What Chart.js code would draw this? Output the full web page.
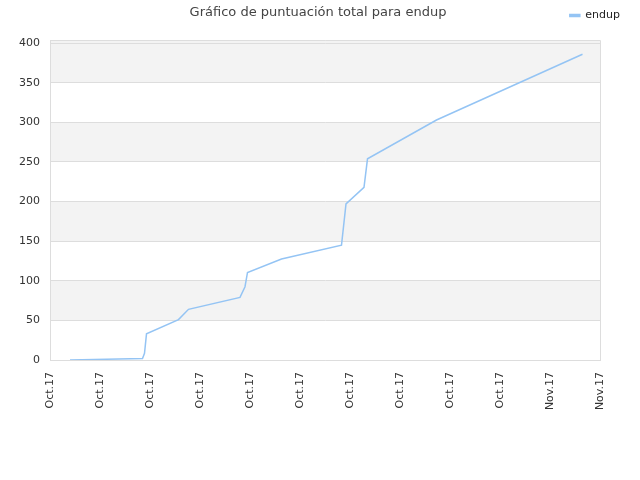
<!DOCTYPE html>
<html>
<head>
<meta charset="utf-8">
<script src="https://cdn.jsdelivr.net/npm/chart.js@4/dist/chart.umd.min.js"></script>
<style>
    html, body { margin: 0; padding: 0; background: #fff; }
    #wrap { width: 640px; height: 480px; }
</style>
</head>
<body>
<div id="wrap"><canvas id="scoreChart" width="640" height="480"></canvas></div>
<script>
// Chart data
const chartTitle = 'Gráfico de puntuación total para endup';
const seriesName = 'endup';
const xTickLabels = ['Oct.17', 'Oct.17', 'Oct.17', 'Oct.17', 'Oct.17', 'Oct.17',
                     'Oct.17', 'Oct.17', 'Oct.17', 'Oct.17', 'Nov.17', 'Nov.17'];
const yTickValues = [0, 50, 100, 150, 200, 250, 300, 350, 400];
const pointX = [0.4, 1.13, 1.85, 1.89, 1.93, 2.57, 2.77, 3.8, 3.9, 3.95, 4.63, 5.83, 5.92, 6.28, 6.35, 7.73, 10.65];
const pointY = [0, 1, 2, 8.5, 33, 51, 64, 79, 92.5, 110.5, 127.5, 145, 197, 218, 254, 303, 386];
const bandRanges = [[50, 100], [150, 200], [250, 300], [350, 404]];

const LINE_COLOR = '#94c4f4';
const GRID_COLOR = '#dddddd';

// alternating grey bands + frame on the plot area
const bandsPlugin = {
    id: 'bands',
    beforeDraw(chart) {
        const { ctx, chartArea: a, scales: { y } } = chart;
        ctx.save();
        ctx.fillStyle = '#f3f3f3';
        bandRanges.forEach(([lo, hi]) => {
            const top = y.getPixelForValue(hi);
            const bot = y.getPixelForValue(lo);
            ctx.fillRect(a.left, top, a.right - a.left, bot - top);
        });
        ctx.restore();
    },
    afterDraw(chart) {
        const { ctx, chartArea: a } = chart;
        ctx.save();
        ctx.strokeStyle = GRID_COLOR;
        ctx.lineWidth = 1;
        ctx.beginPath();
        ctx.moveTo(a.left, a.top + 0.5);
        ctx.lineTo(a.right + 0.5, a.top + 0.5);
        ctx.lineTo(a.right + 0.5, a.bottom);
        ctx.stroke();
        // title sits on the same row as the legend
        ctx.fillStyle = '#444';
        ctx.font = '13px "DejaVu Sans"';
        ctx.textAlign = 'center';
        ctx.textBaseline = 'middle';
        ctx.fillText(chartTitle, 318, 13);
        ctx.restore();
    }
};

const ctx = document.getElementById('scoreChart').getContext('2d');
const scoreChart = new Chart(ctx, {
    type: 'line',
    data: {
        datasets: [{
            label: seriesName,
            data: pointX.map((x, i) => ({ x: x, y: pointY[i] })),
            borderColor: LINE_COLOR,
            backgroundColor: LINE_COLOR,
            borderWidth: 1.5,
            pointRadius: 0,
            tension: 0,
            fill: false
        }]
    },
    options: {
        responsive: false,
        animation: false,
        layout: { padding: { top: 0, right: 10, left: 0, bottom: 0 } },
        plugins: {
            title: { display: false },
            // spacer between legend row and plot area
            subtitle: {
                display: true,
                text: '',
                weight: 500,
                font: { size: 1, lineHeight: 1 },
                padding: { top: 0, bottom: 8 }
            },
            tooltip: { enabled: false },
            legend: {
                position: 'top',
                align: 'end',
                labels: {
                    color: '#222',
                    boxWidth: 10,
                    boxHeight: 2,
                    padding: 10,
                    font: { family: 'DejaVu Sans', size: 11 }
                }
            }
        },
        scales: {
            x: {
                type: 'linear',
                min: 0,
                max: 11,
                afterFit: s => { s.height = 120; },
                grid: { display: false, drawTicks: false },
                border: { display: true, color: GRID_COLOR },
                ticks: {
                    stepSize: 1,
                    autoSkip: false,
                    maxRotation: 90,
                    minRotation: 90,
                    padding: 12,
                    color: '#333',
                    font: { family: 'DejaVu Sans', size: 11 },
                    callback: v => xTickLabels[v]
                }
            },
            y: {
                min: 0,
                max: 404,
                afterFit: s => { s.width = 50; },
                afterBuildTicks: s => { s.ticks = yTickValues.map(v => ({ value: v })); },
                grid: { color: GRID_COLOR, drawTicks: false },
                border: { display: true, color: GRID_COLOR },
                ticks: {
                    padding: 10,
                    color: '#333',
                    font: { family: 'DejaVu Sans', size: 11 }
                }
            },
            // empty right-hand axis keeps the plot clear of the legend's right edge
            yRight: {
                position: 'right',
                display: true,
                afterFit: s => { s.width = 30; },
                grid: { display: false, drawTicks: false },
                border: { display: false },
                ticks: { display: false }
            }
        }
    },
    plugins: [bandsPlugin]
});
</script>
</body>
</html>
